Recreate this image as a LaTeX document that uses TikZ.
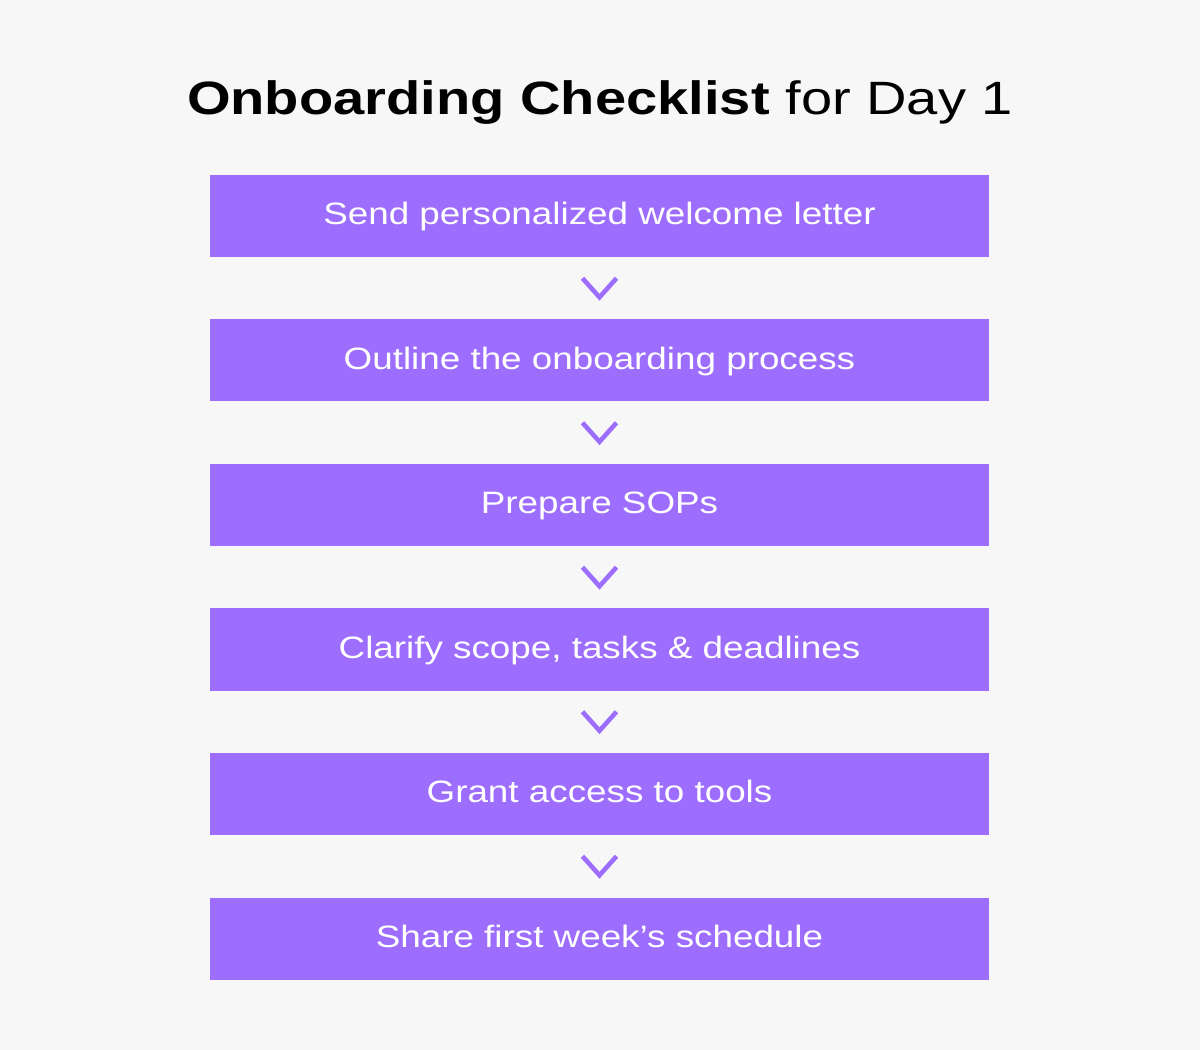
\documentclass[tikz,border=0pt]{standalone}
\usepackage{fontspec}
\setmainfont{Liberation Sans}
\newfontfamily\titlefont{Liberation Sans}[FakeStretch=1.2]
\newfontfamily\stepfont{Liberation Sans}[FakeStretch=1.19]
\usetikzlibrary{positioning}
\usetikzlibrary{calc}

\definecolor{bgcol}{HTML}{F7F7F7}
\definecolor{stepcol}{HTML}{9D6EFD}

\tikzset{
    stepbox/.style={fill=stepcol, draw=none, minimum width=7.79cm, minimum height=0.82cm,
        text=white, font=\stepfont\fontsize{8.8}{10}\selectfont, inner sep=0pt, outer sep=0pt,
        text height=0.75em, text depth=0.25em},
    chev/.style={draw=stepcol, line width=1.3pt, line cap=butt, line join=miter},
}

\begin{document}
\begin{tikzpicture}
        \fill[bgcol] (0,0) rectangle (12,10.5);
        \useasboundingbox (0,0) rectangle (12,10.5);

        \node[font=\titlefont\fontsize{13.3}{15}\selectfont, anchor=base, inner sep=0pt] (title) at (6,9.35)
            {\textbf{Onboarding Checklist} for Day 1};

        \node[stepbox] (s1) at (5.995,8.34) {Send personalized welcome letter};
        \node[stepbox, below=0.625cm of s1] (s2) {Outline the onboarding process};
        \node[stepbox, below=0.625cm of s2] (s3) {Prepare SOPs};
        \node[stepbox, below=0.625cm of s3] (s4) {Clarify scope, tasks \& deadlines};
        \node[stepbox, below=0.625cm of s4] (s5) {Grant access to tools};
        \node[stepbox, below=0.625cm of s5] (s6) {Share first week’s schedule};

        % chevrons between the steps
        \foreach \a/\b in {s1/s2, s2/s3, s3/s4, s4/s5, s5/s6} {
            \coordinate (m) at ($(\a.south)!0.5!(\b.north)$);
            \draw[chev] ($(m)+(-0.17,0.1)$) -- ($(m)+(0,-0.09)$) -- ($(m)+(0.17,0.1)$);
        }

    \end{tikzpicture}
\end{document}
